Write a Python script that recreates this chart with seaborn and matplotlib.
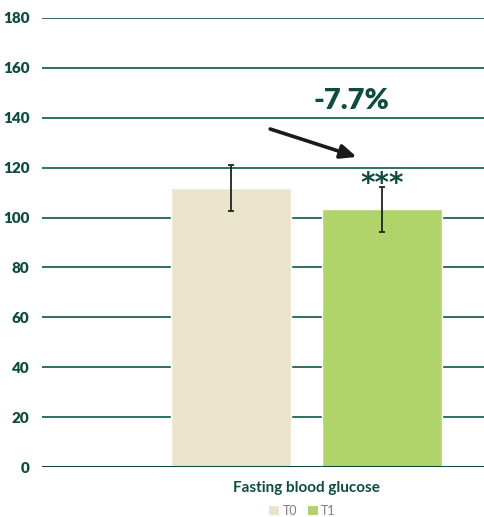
import matplotlib

matplotlib.use("Agg")
import matplotlib.pyplot as plt
import pandas as pd
import seaborn as sns
from matplotlib.patches import Patch

# values
categories = ["Fasting blood glucose"]
timepoints = ["T0", "T1"]
means = [112.0, 103.3]
errors = [9.2, 9.0]
yticks = [0, 20, 40, 60, 80, 100, 120, 140, 160, 180]
change_label = "-7.7%"
signif_label = "***"

colors = {"T0": "#EAE4CC", "T1": "#B1D46A"}
dark = "#0E4C40"
grid_color = "#2F6E62"

df = pd.DataFrame({
    "measure": categories * len(timepoints),
    "time": timepoints,
    "value": means,
})

sns.set_theme(style="white")
plt.rcParams["font.family"] = ["Lato", "DejaVu Sans"]

fig = plt.figure(figsize=(4.84, 5.17), dpi=100)
ax = fig.add_axes([0.0868, 0.0967, 0.9132, 0.8685])

sns.barplot(data=df, x="measure", y="value", hue="time", palette=colors,
            width=0.8, gap=0.21, saturation=1, errorbar=None, legend=False,
            ax=ax, zorder=3)

# error bars at the bar centres seaborn placed
bars = [p for p in ax.patches if p.get_height() > 0]
centres = [b.get_x() + b.get_width() / 2 for b in bars]
ax.errorbar(centres, means, yerr=errors, fmt="none", ecolor="#222222",
            elinewidth=1.3, capsize=2.5, capthick=1.3, zorder=4)

ax.set_ylim(0, 180)
ax.set_xlim(-0.70, 0.47)
ax.set_yticks(yticks)
ax.yaxis.grid(True, color=grid_color, linewidth=1.4, zorder=0)
ax.set_axisbelow(True)
ax.axhline(0, color=dark, linewidth=2.2, zorder=5)
for s in ax.spines.values():
    s.set_visible(False)
ax.tick_params(axis="y", length=0, pad=9, labelsize=11, labelcolor=dark)
for lbl in ax.get_yticklabels():
    lbl.set_fontweight("heavy")
ax.tick_params(axis="x", length=0, labelbottom=False)
ax.set_ylabel("")
ax.set_xlabel("")

ax.text(0.0, -0.046, categories[0], transform=ax.get_xaxis_transform(),
        ha="center", va="center", fontsize=11, fontweight="bold", color=dark)

# change annotation
ax.annotate("", xy=(centres[1] - 0.067, 124.3), xytext=(centres[0] + 0.104, 135.5),
            arrowprops=dict(arrowstyle="-|>,head_length=0.8,head_width=0.35",
                            color="#1a1a1a", lw=2.6, shrinkA=0, shrinkB=0))
ax.text(centres[1] - 0.08, 146.7, change_label, ha="center", va="center",
        fontsize=21, fontweight="heavy", color=dark)
ax.text(centres[1], 113.5, signif_label, ha="center", va="center",
        fontsize=20, fontweight="bold", color=dark, family=["DejaVu Sans"])

handles = [Patch(facecolor=colors[t], edgecolor="none", label=t) for t in timepoints]
fig.legend(handles=handles, loc="center", bbox_to_anchor=(0.625, 0.012),
           ncol=2, frameon=False, fontsize=9, handlelength=0.8, handleheight=0.8,
           handletextpad=0.3, columnspacing=0.8, labelcolor="#7F7F7F")

fig.savefig("out.png", dpi=100)
